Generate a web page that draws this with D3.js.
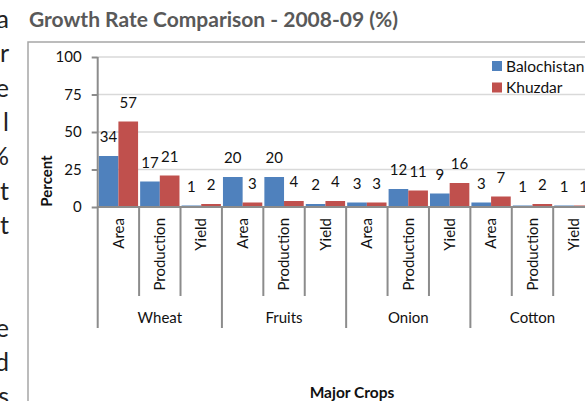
<!DOCTYPE html>
<html>
<head>
<meta charset="utf-8">
<script src="https://cdn.jsdelivr.net/npm/d3@7"></script>
<style>
  body { margin: 0; background: #fff; }
  svg { display: block; font-family: Lato, "Open Sans", sans-serif; }
</style>
</head>
<body>
<svg width="585" height="401"></svg>
<script>
// data
let crops = ["Wheat", "Fruits", "Onion", "Cotton"];
let measures = ["Area", "Production", "Yield"];
let seriesNames = ["Balochistan", "Khuzdar"];
let balochistan = [34, 17, 1, 20, 20, 2, 3, 12, 9, 3, 1, 1];
let khuzdar = [57, 21, 2, 3, 4, 4, 3, 11, 16, 7, 2, 1];
let yTicks = [0, 25, 50, 75, 100];
// bits of the page text that sit left of the chart
let sideLetters = ["a", "r", "e", "l", "%", "t", "t", "", "", "e", "d", "s"];

let colors = {"Balochistan": "#4f81bd", "Khuzdar": "#c0504d"};

let svg = d3.select("svg");

// page text cut by the crop
svg.append("g").selectAll("text").data(sideLetters).enter().append("text")
  .attr("x", 9).attr("y", (d, i) => 28 + i * 34.3)
  .attr("text-anchor", "end").attr("font-size", 25).attr("fill", "#222")
  .text(d => d);

// chart frame
svg.append("rect").attr("x", 28).attr("y", 42).attr("width", 600).attr("height", 400)
  .attr("fill", "none").attr("stroke", "#a6a6a6").attr("stroke-width", 1.5);

svg.append("text").attr("x", 29).attr("y", 27)
  .attr("font-size", 21).attr("font-weight", "bold").attr("fill", "#595959")
  .text("Growth Rate Comparison - 2008-09 (%)");

// rows: one per crop/measure pair
let rows = [];
crops.forEach(function(c){
  measures.forEach(function(m){
    rows.push({crop: c, measure: m, key: c + "|" + m});
  });
});
rows.forEach(function(r, i){
  r.Balochistan = balochistan[i];
  r.Khuzdar = khuzdar[i];
});

let plotLeft = 97.7, plotRight = 594.6, plotTop = 57, plotBottom = 207;

let x0 = d3.scaleBand().domain(rows.map(r => r.key)).range([plotLeft, plotRight])
  .paddingInner(0.05).paddingOuter(0.025);
let x1 = d3.scaleBand().domain(seriesNames).range([0, x0.bandwidth()]);
let y = d3.scaleLinear().domain([0, 100]).range([plotBottom, plotTop]);
let step = x0.step();

// gridlines
svg.append("g").selectAll("line").data(yTicks.filter(t => t > 0)).enter().append("line")
  .attr("x1", plotLeft).attr("x2", 585).attr("y1", d => y(d)).attr("y2", d => y(d))
  .attr("stroke", "#d9d9d9").attr("stroke-width", 1.5);

// bars
let groups = svg.append("g").selectAll("g").data(rows).enter().append("g")
  .attr("transform", d => "translate(" + x0(d.key) + ",0)");
groups.selectAll("rect").data(d => seriesNames.map(s => ({s: s, v: d[s]}))).enter().append("rect")
  .attr("x", d => x1(d.s)).attr("width", x1.bandwidth())
  .attr("y", d => y(d.v)).attr("height", d => plotBottom - y(d.v))
  .attr("fill", d => colors[d.s]);
groups.selectAll("text").data(d => seriesNames.map(s => ({s: s, v: d[s]}))).enter().append("text")
  .attr("x", d => x1(d.s) + x1.bandwidth() / 2).attr("y", d => y(d.v) - 14)
  .attr("text-anchor", "middle").attr("font-size", 15).attr("fill", "#111")
  .text(d => d.v);

// y axis
let yAxis = svg.append("g").attr("transform", "translate(" + plotLeft + ",0)")
  .call(d3.axisLeft(y).tickValues(yTicks).tickSize(6).tickPadding(10));
yAxis.select(".domain").remove();
yAxis.selectAll("line").attr("stroke", "#8c8c8c").attr("stroke-width", 2);
yAxis.selectAll("text").attr("font-size", 15).attr("fill", "#111").attr("font-family", "Lato");
svg.append("line").attr("x1", plotLeft).attr("x2", plotLeft).attr("y1", plotTop).attr("y2", plotBottom)
  .attr("stroke", "#8c8c8c").attr("stroke-width", 2);

// x axis with rotated measure names
let xAxis = svg.append("g").attr("transform", "translate(0," + plotBottom + ")")
  .call(d3.axisBottom(x0).tickSize(0).tickFormat(k => k.split("|")[1]));
xAxis.select(".domain").remove();
xAxis.selectAll("text")
  .attr("transform", "rotate(-90)")
  .attr("text-anchor", "end").attr("x", -11).attr("y", 0).attr("dy", "0.35em")
  .attr("font-size", 15).attr("fill", "#111").attr("font-family", "Lato");

svg.append("line").attr("x1", plotLeft).attr("x2", 585).attr("y1", plotBottom).attr("y2", plotBottom)
  .attr("stroke", "#8c8c8c").attr("stroke-width", 2);

// separators between measures and crops
let edges = d3.range(rows.length + 1).map(i => plotLeft + i * step);
svg.append("g").selectAll("line").data(edges).enter().append("line")
  .attr("x1", d => d).attr("x2", d => d)
  .attr("y1", plotBottom).attr("y2", (d, i) => i % 3 == 0 ? 328 : 296)
  .attr("stroke", "#8c8c8c").attr("stroke-width", 2);

// crop names
svg.append("g").selectAll("text").data(crops).enter().append("text")
  .attr("x", (d, i) => plotLeft + (i * 3 + 1.5) * step).attr("y", 323)
  .attr("text-anchor", "middle").attr("font-size", 15).attr("fill", "#111")
  .text(d => d);

// axis titles
svg.append("text").attr("transform", "translate(51.5,181) rotate(-90)")
  .attr("text-anchor", "middle").attr("font-size", 15).attr("font-weight", "bold").attr("fill", "#111")
  .text("Percent");
svg.append("text").attr("x", 352).attr("y", 398)
  .attr("text-anchor", "middle").attr("font-size", 15.5).attr("font-weight", "bold").attr("fill", "#111")
  .text("Major Crops");

// legend
let legend = svg.append("g").selectAll("g").data(seriesNames).enter().append("g")
  .attr("transform", (d, i) => "translate(492," + (61 + i * 21.5) + ")");
legend.append("rect").attr("width", 10).attr("height", 10).attr("fill", d => colors[d]);
legend.append("text").attr("x", 14).attr("y", 10.5).attr("font-size", 15.5).attr("fill", "#111").text(d => d);
</script>
</body>
</html>
